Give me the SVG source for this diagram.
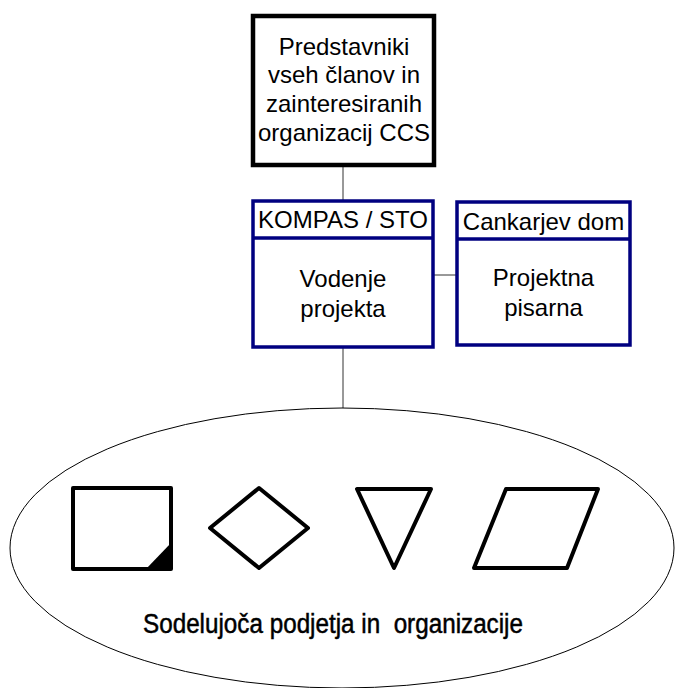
<svg xmlns="http://www.w3.org/2000/svg" width="677" height="688" viewBox="0 0 677 688">
<style>
text{font-family:"Liberation Sans",Arial,sans-serif;fill:#000;text-anchor:middle}
.t{font-size:24px}
.box{fill:#fff;stroke:#000080;stroke-width:3.5}
.sh{fill:#fff;stroke:#000;stroke-width:4;stroke-linejoin:round}
.con{stroke:#333;stroke-width:1;fill:none}
</style>
<rect width="677" height="688" fill="#fff"/>
<g id="connectors">
<line class="con" x1="343" y1="165" x2="343" y2="201"/>
<line class="con" x1="433" y1="275" x2="457" y2="275"/>
<line class="con" x1="343" y1="347" x2="343" y2="408"/>
</g>
<g id="predstavniki">
<rect x="253" y="16" width="181" height="149" fill="#fff" stroke="#000" stroke-width="4.5"/>
<text class="t" x="344" y="55">Predstavniki</text>
<text class="t" x="344" y="83">vseh članov in</text>
<text class="t" x="344" y="112">zainteresiranih</text>
<text class="t" x="344" y="141">organizacij CCS</text>
</g>
<g id="kompas">
<rect class="box" x="253" y="201" width="180" height="146"/>
<line x1="253" y1="238" x2="433" y2="238" stroke="#000080" stroke-width="3.5"/>
<text class="t" x="343" y="228">KOMPAS / STO</text>
<text class="t" x="343" y="287">Vodenje</text>
<text class="t" x="343" y="317">projekta</text>
</g>
<g id="cankarjev">
<rect class="box" x="457" y="202" width="173" height="143"/>
<line x1="457" y1="239" x2="630" y2="239" stroke="#000080" stroke-width="3.5"/>
<text class="t" x="543.5" y="230">Cankarjev dom</text>
<text class="t" x="543.5" y="286">Projektna</text>
<text class="t" x="543.5" y="316">pisarna</text>
</g>
<g id="sodelujoca">
<ellipse cx="342" cy="548" rx="332" ry="140" fill="#fff" stroke="#000" stroke-width="1"/>
<rect class="sh" x="73" y="488" width="98" height="81"/>
<polygon points="146,569 171,543 171,569" fill="#000"/>
<polygon class="sh" points="259,488 308,528 259,568 210,528"/>
<polygon class="sh" points="357,489 431,489 394,568"/>
<polygon class="sh" points="506,489 598,489 567,568 474,568"/>
<text x="333" y="633" font-size="27" textLength="380" lengthAdjust="spacingAndGlyphs" stroke="#000" stroke-width="0.5" xml:space="preserve">Sodelujoča podjetja in  organizacije</text>
</g>
</svg>
